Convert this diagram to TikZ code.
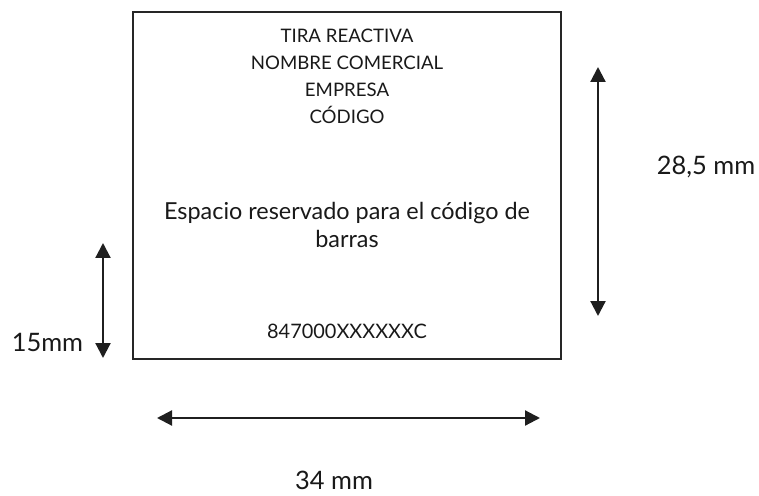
\documentclass[tikz,border=0pt]{standalone}
\usepackage{fontspec}
\setmainfont{Lato}
\usetikzlibrary{arrows.meta}
\tikzset{
  dim/.style={line width=2.2bp, {Triangle[length=15bp,width=15bp]}-{Triangle[length=15bp,width=15bp]}, color=black!88},
  lbl/.style={inner sep=0pt, anchor=base, font=\fontsize{18.7}{26}\selectfont, text=black!90},
  big/.style={inner sep=0pt, font=\fontsize{23.5}{29}\selectfont, align=center, text=black!90},
  dimlbl/.style={inner sep=0pt, anchor=base, font=\fontsize{25.5}{29}\selectfont, text=black!90}
}
\begin{document}
\begin{tikzpicture}[x=1bp,y=-1bp]
\useasboundingbox (0,0) rectangle (759,496);
\node[draw=black!85, line width=1.3bp, minimum width=428bp, minimum height=347bp, inner sep=0pt] (box) at (347,185.5) {};
\node[lbl] (t1) at (347,43) {TIRA REACTIVA};
\node[lbl] (t2) at (347,70) {NOMBRE COMERCIAL};
\node[lbl] (t3) at (347,97) {EMPRESA};
\node[lbl] (t4) at (347,124) {CÓDIGO};
\node[big] (esp) at (347,225) {Espacio reservado para el código de\\barras};
\node[lbl, font=\fontsize{20}{26}\selectfont] (num) at (347,338) {847000XXXXXXC};
\coordinate (la) at (103,243);
\coordinate (lb) at (103,358);
\draw[dim] (la) -- (lb);
\coordinate (ra) at (598,67);
\coordinate (rb) at (598,316);
\draw[dim] (ra) -- (rb);
\coordinate (ha) at (157,418);
\coordinate (hb) at (540,418);
\draw[dim] (ha) -- (hb);
\node[dimlbl] (l15) at (47.5,351) {15mm};
\node[dimlbl] (l28) at (706,175) {28,5 mm};
\node[dimlbl] (l34) at (334,489) {34 mm};
\end{tikzpicture}
\end{document}
